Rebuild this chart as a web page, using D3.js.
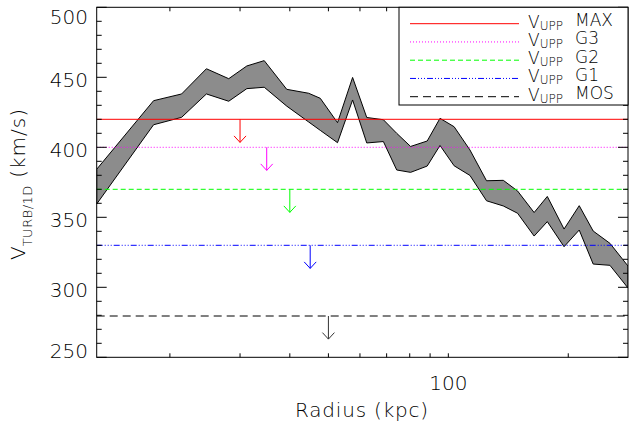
<!DOCTYPE html>
<html>
<head>
<meta charset="utf-8">
<script src="https://cdn.jsdelivr.net/npm/d3@7"></script>
<style>
	body { margin: 0; background: #fff; }
	svg { display: block; font-family: 'DejaVu Sans', sans-serif; }
	.lbl { fill: #000; font-weight: 200; }
</style>
</head>
<body>
<div id="container"></div>
<script>
// radius (kpc) and upper / lower edge of the band (km/s)
const radius = [13.1, 18.2, 21.4, 24.7, 28.1, 31.2, 34.5, 39.3, 44.6, 47.7, 52.7, 57.5, 62.4, 68.7, 74.2, 80.4, 88.5, 95.3, 103.4, 113.3, 124.7, 137.4, 149.2, 164.2, 177.2, 195.2, 213.1, 231.0, 254.5, 282.5];
const upper = [384.3, 433.3, 438.1, 456.1, 449.0, 458.1, 461.9, 441.4, 438.6, 435.0, 417.6, 449.9, 421.3, 419.7, 410.0, 400.6, 404.5, 420.7, 414.7, 398.1, 376.1, 376.4, 368.8, 353.4, 364.9, 341.6, 358.3, 340.2, 331.4, 315.2];
const lower = [359.5, 416.1, 421.4, 438.1, 432.9, 441.9, 442.9, 429.4, 418.1, 412.1, 403.3, 433.8, 403.1, 404.1, 383.8, 382.1, 386.6, 401.3, 386.8, 379.9, 361.8, 358.1, 352.9, 336.6, 346.9, 329.0, 340.9, 316.6, 315.7, 299.5];

// upper limits
const limitNames = ['MAX', 'G3', 'G2', 'G1', 'MOS'];
const limitValues = [420, 400, 370, 330, 279.5];
const limitRadius = [30, 35, 40, 45, 50];
const limitColors = ['#ff0000', '#ff00ff', '#00ff00', '#0000ff', '#000000'];
const limitDash = [null, '1,2', '5,3', '6,2,1,2,1,2,1,2', '8,5'];

const xTicks = [20, 30, 40, 50, 60, 70, 80, 90, 100, 200];
const xLabels = [100];
const yTicks = [250, 300, 350, 400, 450, 500];

const W = 630, H = 423;
const pLeft = 96.7, pRight = 628, pTop = 7.3, pBottom = 357.3;

const x = d3.scaleLog().domain([13.1, 282.5]).range([pLeft, pRight]);
const y = d3.scaleLinear().domain([250, 500]).range([pBottom, pTop]);

const svg = d3.select('div#container').append('svg').attr('width', W).attr('height', H);

svg.append('defs').append('clipPath').attr('id', 'plot')
	.append('rect').attr('x', pLeft).attr('y', pTop).attr('width', pRight - pLeft).attr('height', pBottom - pTop);

const band = radius.map((r, i) => ({ r, hi: upper[i], lo: lower[i] }));

const plot = svg.append('g').attr('clip-path', 'url(#plot)');

plot.append('path')
	.datum(band)
	.attr('fill', '#8c8c8c')
	.attr('stroke', '#000')
	.attr('stroke-width', 1)
	.attr('d', d3.area().x(d => x(d.r)).y0(d => y(d.lo)).y1(d => y(d.hi)));

// horizontal limit lines
plot.selectAll('line.limit')
	.data(limitValues)
	.enter()
	.append('line')
	.attr('class', 'limit')
	.attr('x1', pLeft).attr('x2', pRight)
	.attr('y1', d => y(d)).attr('y2', d => y(d))
	.attr('stroke', (d, i) => limitColors[i])
	.attr('stroke-dasharray', (d, i) => limitDash[i])
	.attr('stroke-width', 1);

// down arrows
const arrowLen = 16.5;
const arrows = plot.selectAll('g.arrow')
	.data(limitValues)
	.enter()
	.append('g')
	.attr('class', 'arrow')
	.attr('stroke', (d, i) => limitColors[i] === '#000000' ? '#333' : limitColors[i])
	.attr('fill', 'none')
	.attr('stroke-width', 1);

arrows.append('line')
	.attr('x1', (d, i) => x(limitRadius[i])).attr('x2', (d, i) => x(limitRadius[i]))
	.attr('y1', d => y(d)).attr('y2', d => y(d - arrowLen));

arrows.append('path')
	.attr('d', (d, i) => {
		const ax = x(limitRadius[i]), ay = y(d - arrowLen);
		return `M${ax - 6},${ay - 6.5}L${ax},${ay}L${ax + 6},${ay - 6.5}`;
	});

// frame
svg.append('rect')
	.attr('x', pLeft).attr('y', pTop)
	.attr('width', pRight - pLeft).attr('height', pBottom - pTop)
	.attr('fill', 'none').attr('stroke', '#000').attr('stroke-width', 1);

// y ticks, left and right
const yMinor = d3.range(250, 501, 10);
svg.selectAll('line.ytl')
	.data(yMinor)
	.enter()
	.append('line')
	.attr('class', 'ytl')
	.attr('x1', pLeft).attr('x2', d => pLeft + (d % 50 === 0 ? 10 : 5))
	.attr('y1', d => y(d)).attr('y2', d => y(d))
	.attr('stroke', '#000');
svg.selectAll('line.ytr')
	.data(yMinor)
	.enter()
	.append('line')
	.attr('class', 'ytr')
	.attr('x1', pRight).attr('x2', d => pRight - (d % 50 === 0 ? 10 : 5))
	.attr('y1', d => y(d)).attr('y2', d => y(d))
	.attr('stroke', '#000');

svg.selectAll('text.ylab')
	.data(yTicks)
	.enter()
	.append('text')
	.attr('class', 'lbl ylab')
	.attr('x', 88)
	.attr('y', d => Math.min(pBottom - 7, Math.max(pTop + 9, y(d) + 2.5)))
	.attr('dy', '0.36em')
	.attr('text-anchor', 'end')
	.style('font-size', '20px')
	.text(d => d);

// x ticks, bottom and top
svg.selectAll('line.xtb')
	.data(xTicks)
	.enter()
	.append('line')
	.attr('class', 'xtb')
	.attr('x1', d => x(d)).attr('x2', d => x(d))
	.attr('y1', pBottom).attr('y2', pBottom - 4)
	.attr('stroke', '#000');
svg.selectAll('line.xtt')
	.data(xTicks)
	.enter()
	.append('line')
	.attr('class', 'xtt')
	.attr('x1', d => x(d)).attr('x2', d => x(d))
	.attr('y1', pTop).attr('y2', pTop + 4)
	.attr('stroke', '#000');

svg.selectAll('text.xlab')
	.data(xLabels)
	.enter()
	.append('text')
	.attr('class', 'lbl xlab')
	.attr('x', d => x(d))
	.attr('y', 390)
	.attr('text-anchor', 'middle')
	.style('font-size', '20px')
	.text(d => d);

// axis titles
svg.append('text')
	.attr('class', 'lbl')
	.attr('x', 362).attr('y', 417)
	.attr('text-anchor', 'middle')
	.style('font-size', '20px')
	.style('letter-spacing', '0.8px')
	.text('Radius (kpc)');

const yTitle = svg.append('text')
	.attr('class', 'lbl')
	.attr('transform', 'translate(25,184) rotate(-90)')
	.attr('text-anchor', 'middle')
	.style('font-size', '20px');
yTitle.append('tspan').text('V');
yTitle.append('tspan').attr('dy', 7).style('font-size', '13px').style('letter-spacing', '0.5px').text('TURB/1D');
yTitle.append('tspan').attr('dy', -7).style('letter-spacing', '1px').text(' (km/s)');

// legend
const lgX = 399, lgBottom = 105;
svg.append('rect')
	.attr('x', lgX).attr('y', pTop)
	.attr('width', pRight - lgX).attr('height', lgBottom - pTop)
	.attr('fill', '#fff').attr('stroke', '#000').attr('stroke-width', 1);

const rowY = d3.scaleLinear().domain([0, 4]).range([23.7, 96.7]);
const rows = svg.selectAll('g.leg')
	.data(limitNames)
	.enter()
	.append('g')
	.attr('class', 'leg')
	.attr('transform', (d, i) => `translate(0,${rowY(i)})`);

rows.append('line')
	.attr('x1', 410).attr('x2', 519)
	.attr('stroke', (d, i) => limitColors[i])
	.attr('stroke-dasharray', (d, i) => limitDash[i])
	.attr('stroke-width', 1);

const lt = rows.append('text')
	.attr('class', 'lbl')
	.attr('x', 528).attr('y', 4)
	.style('font-size', '17px');
lt.append('tspan').text('V');
lt.append('tspan').attr('dy', 2).style('font-size', '12px').text('UPP');
rows.append('text')
	.attr('class', 'lbl')
	.attr('x', 575).attr('y', 2.5)
	.style('font-size', '17px')
	.text(d => d);
</script>
</body>
</html>
